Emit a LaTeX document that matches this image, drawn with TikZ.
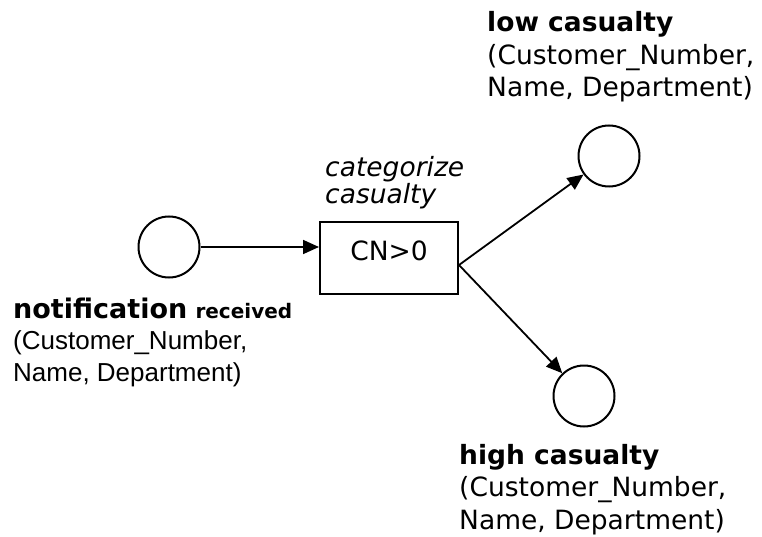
\documentclass[tikz,border=0pt]{standalone}
\usepackage{fontspec}
\setmainfont{DejaVu Sans}
\newfontfamily\arialfont{Liberation Sans}
\usetikzlibrary{arrows.meta}
\begin{document}
\begin{tikzpicture}[x=1pt,y=-1pt,
  place/.style={circle,draw,line width=2pt,minimum size=61pt,inner sep=0pt},
  trans/.style={rectangle,draw,line width=2pt,minimum width=138pt,minimum height=72pt,inner sep=0pt,
    font=\fontsize{26.5}{32}\selectfont,text height=19pt,text depth=15pt},
  arc/.style={line width=1.8pt,-{Triangle[length=16pt,width=14pt]}},
  lbl/.style={inner sep=0pt,anchor=base west,align=left,font=\fontsize{26.5}{32.5}\selectfont}]
\useasboundingbox (0,0) rectangle (762,537);
\node[place] (p1) at (169,247) {};
\node[trans] (t) at (389,258) {CN>0};
\node[place] (p2) at (609,156) {};
\node[place] (p3) at (584,396) {};
\coordinate (o) at ([yshift=-7pt]t.east);
\draw[arc] (p1) -- (p1 -| t.west);
\draw[arc] (o) -- (p2);
\draw[arc] (o) -- (p3);
\node[lbl,font=\fontsize{26.5}{27}\selectfont] (tl) at (325,204) {\itshape categorize\\\itshape casualty};
\node[lbl,font=\fontsize{26}{31.5}\selectfont] (l1) at (13,381) {\textbf{\fontsize{27}{31.5}\selectfont notification} {\fontsize{20}{31.5}\selectfont\bfseries received}\\
  \arialfont (Customer\_Number,\\ \arialfont Name, Department)};
\node[lbl] (l2) at (487,97) {\textbf{low casualty}\\(Customer\_Number,\\Name, Department)};
\node[lbl] (l3) at (459,529) {\textbf{high casualty}\\(Customer\_Number,\\Name, Department)};
\end{tikzpicture}
\end{document}
